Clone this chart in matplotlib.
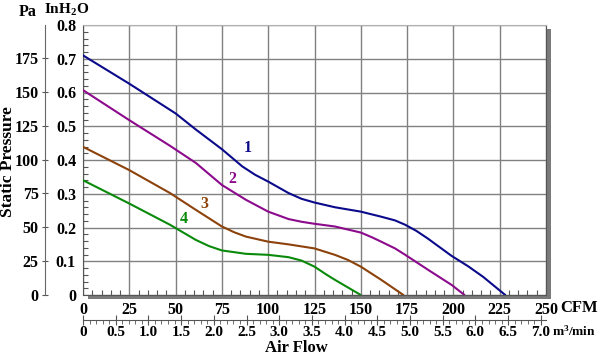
import matplotlib
matplotlib.use('Agg')
import matplotlib.pyplot as plt
from matplotlib.patches import Rectangle
from matplotlib.ticker import MultipleLocator

# ---- data (CFM, inH2O) ----
cfm_1 = [0, 25, 50, 61, 75, 86, 93, 100, 111, 118, 125, 136, 150, 161, 168.5, 174, 180, 186, 199, 208, 216, 228]
p_1 = [0.71, 0.626, 0.538, 0.49, 0.432, 0.381, 0.356, 0.336, 0.302, 0.285, 0.274, 0.260, 0.247, 0.232, 0.221, 0.208, 0.19, 0.168, 0.116, 0.085, 0.054, 0.0]
cfm_2 = [0, 25, 47, 61, 75, 88, 100, 111, 118, 125, 136, 150, 156, 161, 168.5, 174, 186.5, 199, 206]
p_2 = [0.607, 0.518, 0.442, 0.391, 0.326, 0.282, 0.247, 0.225, 0.217, 0.211, 0.203, 0.185, 0.171, 0.158, 0.138, 0.119, 0.074, 0.030, 0.0]
cfm_3 = [0, 25, 47, 61, 75, 81.6, 88, 100, 111, 125, 136, 143, 150, 161, 173]
p_3 = [0.439, 0.37, 0.302, 0.252, 0.203, 0.186, 0.173, 0.158, 0.150, 0.138, 0.119, 0.104, 0.084, 0.045, 0.0]
cfm_4 = [0, 25, 47, 61, 68, 75, 88, 100, 111, 118, 125, 131, 136, 150]
p_4 = [0.34, 0.271, 0.208, 0.163, 0.145, 0.132, 0.122, 0.119, 0.112, 0.102, 0.084, 0.062, 0.045, 0.0]

curve_names = ['1', '2', '3', '4']
curve_colors = ['#0a0a8a', '#8c0a8c', '#8c420a', '#0a8a0a']
label_pos = [(88.8, 0.435), (80.4, 0.343), (65.5, 0.27), (54.2, 0.225)]

cfm_ticks = [0, 25, 50, 75, 100, 125, 150, 175, 200, 225, 250]
inh2o_ticks = [0, 0.1, 0.2, 0.3, 0.4, 0.5, 0.6, 0.7, 0.8]
inh2o_labels = ['0', '0.1', '0.2', '0.3', '0.4', '0.5', '0.6', '0.7', '0.8']
pa_ticks = [0, 25, 50, 75, 100, 125, 150, 175]
m3_ticks = [0, 0.5, 1.0, 1.5, 2.0, 2.5, 3.0, 3.5, 4.0, 4.5, 5.0, 5.5, 6.0, 6.5, 7.0]
m3_labels = ['0'] + ['%.1f' % v for v in m3_ticks[1:]]

PA_PER_INH2O = 249.09
CFM_PER_M3MIN = 35.315

plt.rcParams['font.family'] = ['Liberation Serif', 'DejaVu Serif']
plt.rcParams['font.weight'] = 'bold'
plt.rcParams['mathtext.fontset'] = 'custom'
plt.rcParams['mathtext.rm'] = 'Liberation Serif:bold'
plt.rcParams['mathtext.it'] = 'Liberation Serif:bold'
plt.rcParams['mathtext.bf'] = 'Liberation Serif:bold'

W, H = 600, 355
fig = plt.figure(figsize=(6, 3.55), dpi=100)
fig.patch.set_facecolor('white')


def fx(px):
    return px / W


def fy(py):
    return 1 - py / H


L, R, T, B = 83, 546, 25, 295
FS = 11.5

# shadow
shadow = Rectangle((fx(88), fy(299)), fx(551) - fx(88), fy(29) - fy(299),
                   transform=fig.transFigure, facecolor='#7a7a7a', edgecolor='none', zorder=-5)
fig.patches.append(shadow)

ax = fig.add_axes([fx(L), fy(B), fx(R) - fx(L), fy(T) - fy(B)])
ax.set_zorder(2)
ax.set_facecolor('white')
ax.set_xlim(0, 250)
ax.set_ylim(0, 0.8)
ax.set_xticks(cfm_ticks)
ax.set_xticklabels([str(v) for v in cfm_ticks])
ax.set_yticks(inh2o_ticks)
ax.set_yticklabels(inh2o_labels)
ax.xaxis.set_minor_locator(MultipleLocator(5))
ax.yaxis.set_minor_locator(MultipleLocator(0.02))
ax.tick_params(which='major', length=0, labelsize=FS, pad=5)
ax.tick_params(axis='x', which='major', pad=5)
ax.tick_params(which='minor', direction='in', length=3.5, color='#555555', width=0.8)
ax.grid(True, which='major', color='#808080', lw=1.0)
for s in ['left', 'right', 'bottom']:
    ax.spines[s].set_color('#555555')
ax.spines['top'].set_color('#b0b0b0')

for xs, ys, c in zip([cfm_1, cfm_2, cfm_3, cfm_4], [p_1, p_2, p_3, p_4], curve_colors):
    ax.plot(xs, ys, color=c, lw=1.5, solid_joinstyle='round', solid_capstyle='round', zorder=3)
for name, (lx, ly), c in zip(curve_names, label_pos, curve_colors):
    ax.text(lx, ly, name, color=c, fontsize=11.5, fontweight='bold', ha='center', va='center', zorder=4)

# Pa axis
axp = fig.add_axes([fx(45), fy(B), 0.0005, fy(T) - fy(B)])
axp.set_ylim(0, 0.8 * PA_PER_INH2O)
axp.set_yticks(pa_ticks)
axp.set_yticklabels([str(v) for v in pa_ticks])
axp.set_xticks([])
for s in ['top', 'right', 'bottom']:
    axp.spines[s].set_visible(False)
axp.spines['left'].set_color('#666666')
axp.tick_params(axis='y', direction='inout', length=5, pad=2, labelsize=FS, color='#555555')
axp.patch.set_visible(False)

# m3/min axis
axm = fig.add_axes([fx(L), fy(320), fx(R) - fx(L), 0.0005])
axm.set_xlim(0, 250 / CFM_PER_M3MIN)
axm.set_xticks(m3_ticks)
axm.set_xticklabels(m3_labels)
axm.xaxis.set_minor_locator(MultipleLocator(0.1))
axm.set_yticks([])
for s in ['top', 'right', 'left']:
    axm.spines[s].set_visible(False)
axm.spines['bottom'].set_color('#555555')
axm.tick_params(axis='x', which='major', direction='inout', length=7, pad=1, labelsize=11, color='#555555')
axm.tick_params(axis='x', which='minor', direction='out', length=3, color='#555555')
axm.patch.set_visible(False)

# titles / unit labels
fig.text(fx(28), fy(12), 'Pa', fontsize=11.5, fontweight='bold', ha='center', va='center')
fig.text(fx(67), fy(10), r'$\mathrm{InH_2O}$', fontsize=11, ha='center', va='center')
fig.text(fx(579), fy(308), 'CFM', fontsize=12, fontweight='bold', ha='center', va='center')
fig.text(fx(574), fy(331), r'$\mathrm{m^3/min}$', fontsize=9.5, ha='center', va='center')
fig.text(fx(296), fy(348), 'Air Flow', fontsize=12, fontweight='bold', ha='center', va='center')
fig.text(fx(8), fy(162), 'Static Pressure', fontsize=12.5, fontweight='bold', ha='center', va='center', rotation=90)

fig.savefig('out.png', dpi=100, facecolor='white')
